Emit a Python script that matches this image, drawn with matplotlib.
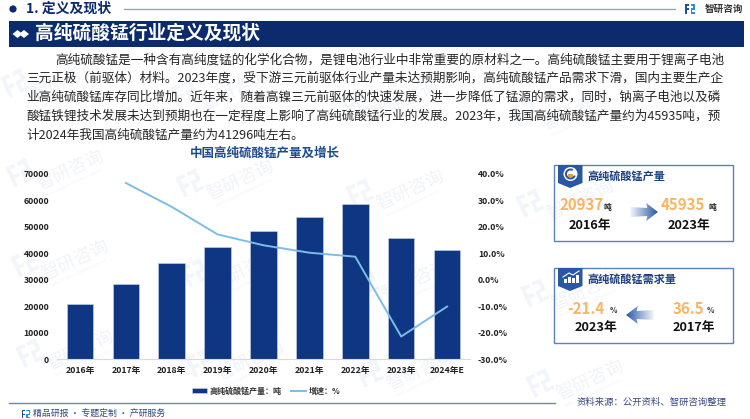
import numpy as np
import matplotlib
matplotlib.use("Agg")
import matplotlib.pyplot as plt
from matplotlib.patches import Polygon, Rectangle, Circle, Wedge
from matplotlib.lines import Line2D
from matplotlib.transforms import Affine2D
from matplotlib.colors import LinearSegmentedColormap

plt.rcParams['font.family'] = ['Noto Sans CJK SC', 'DejaVu Sans']

# ---------- data ----------
years = ['2016年', '2017年', '2018年', '2019年', '2020年', '2021年', '2022年', '2023年', '2024年E']
output = [20937, 28500, 36500, 42500, 48500, 53800, 58500, 45935, 41296]
growth = [np.nan, 36.5, 27.5, 17.1, 13.0, 10.2, 8.7, -21.4, -10.1]
left_ticks = [0, 10000, 20000, 30000, 40000, 50000, 60000, 70000]
right_ticks = [-30, -20, -10, 0, 10, 20, 30, 40]
body_lines = [
    '高纯硫酸锰是一种含有高纯度锰的化学化合物，是锂电池行业中非常重要的原材料之一。高纯硫酸锰主要用于锂离子电池',
    '三元正极（前驱体）材料。2023年度，受下游三元前驱体行业产量未达预期影响，高纯硫酸锰产品需求下滑，国内主要生产企',
    '业高纯硫酸锰库存同比增加。近年来，随着高镍三元前驱体的快速发展，进一步降低了锰源的需求，同时，钠离子电池以及磷',
    '酸锰铁锂技术发展未达到预期也在一定程度上影响了高纯硫酸锰行业的发展。2023年，我国高纯硫酸锰产量约为45935吨，预',
    '计2024年我国高纯硫酸锰产量约为41296吨左右。',
]

W, H = 750, 419
NAVY = '#0c2a6e'
BAR = '#0f3682'
LINE = '#7cbde8'
ORANGE = '#fbb561'
BLUE = '#2a57a5'

fig = plt.figure(figsize=(W / 100, H / 100), dpi=100, facecolor='white')

# ---------- pixel overlay ----------
bg = fig.add_axes([0, 0, 1, 1], zorder=0)
bg.set_xlim(0, W)
bg.set_ylim(H, 0)
bg.axis('off')


def logo(ax, x, y, s, c1, c2, rot=0, z=1, alpha=1):
    tr = Affine2D().scale(s).rotate_deg(rot).translate(x, y) + ax.transData
    for (a, b, w, h, c) in [(-1, -1, 0.85, 0.35, c1), (-1, -1, 0.35, 2, c1), (-1, -0.1, 0.85, 0.35, c1),
                            (0.1, -1, 0.9, 0.35, c2), (0.65, -1, 0.35, 1.1, c2),
                            (0.1, -0.1, 0.9, 0.3, c2), (0.1, -0.1, 0.3, 1.1, c2), (0.1, 0.7, 0.9, 0.3, c2)]:
        ax.add_patch(Rectangle((a, b), w, h, fc=c, ec='none', transform=tr, zorder=z, alpha=alpha))


# watermark tiles (only those lying fully inside the picture)
for j in range(-2, 4):
    for i in range(-1, 5):
        cx = 70 + i * 170 + j * 5
        cy = 173 + i * 10 + j * 90
        if cx < 55 or cx > W - 40 or cy < 25 or cy > H - 25:
            continue
        bg.text(cx, cy - 3, '智研咨询', fontsize=13, color='#f0f3f8', rotation=25,
                ha='center', va='center', zorder=1, rotation_mode='anchor')
        bg.text(cx + 4, cy + 10, 'INTELLIGENCE RESEARCH GROUP', fontsize=2.8, color='#f0f3f8',
                rotation=25, ha='center', va='center', zorder=1, rotation_mode='anchor')
        logo(bg, cx - 50, cy + 0, 11, '#f2f5fa', '#f2f5fa', rot=-25, z=1)

# header
bg.add_patch(Circle((13, 9), 3.6, fc=NAVY, ec='none', zorder=3))
bg.text(26, 9, '1. 定义及现状', fontsize=10, fontweight='bold', color=NAVY, va='center', zorder=3)
bg.add_line(Line2D([124, 675], [9, 9], color='#98a5c6', lw=1, zorder=3))
logo(bg, 690, 9, 5, '#1f4f9c', '#2f8fd0', z=3)
bg.text(705, 8.5, '智研咨询', fontsize=6.9, fontweight='bold', color='#333333', va='center', zorder=3)

# title band
bg.add_patch(Rectangle((9, 21), 735, 26.5, fc=NAVY, ec='none', zorder=3))
for dx in (17.5, 24):
    bg.add_patch(Polygon([(dx - 5, 34), (dx, 30), (dx + 5, 34), (dx, 38)], fc='white', ec='none', zorder=4))
bg.text(35, 33.5, '高纯硫酸锰行业定义及现状', fontsize=13.5, fontweight='bold', color='white', va='center', zorder=4)

# body text
body_x = [55, 26, 26, 26, 26]
body_y = [60, 78, 97, 116, 135]
for tx, yy, ln in zip(body_x, body_y, body_lines):
    bg.text(tx, yy, ln, fontsize=9.1, color='#262626', va='center', zorder=3)

# chart title
bg.text(265, 153, '中国高纯硫酸锰产量及增长', fontsize=9, fontweight='bold', color='#1e4a8e',
        ha='center', va='center', zorder=3)

# footer
bg.add_line(Line2D([9, 555], [403, 403], color='#7484b2', lw=1, zorder=3))
logo(bg, 26, 414, 4, '#1f4f9c', '#2f8fd0', z=3)
bg.text(33, 413, '精品研报 · 专题定制 · 产研服务', fontsize=6.4, color='#2e4a7e', va='center', zorder=3)
bg.text(577, 402.5, '资料来源：公开资料、智研咨询整理', fontsize=6.75, color='#3a4a80', va='center', zorder=3)


# cards
def grad_arrow(x0, x1, y):
    """Blue gradient block arrow from tail x0 to tip x1."""
    L = x1 - x0
    pts = [(x0, y - 5), (x0 + L * 0.62, y - 4), (x0 + L * 0.58, y - 9), (x1, y),
           (x0 + L * 0.58, y + 9), (x0 + L * 0.62, y + 4), (x0, y + 5)]
    cmap = LinearSegmentedColormap.from_list('g', ['#f4f7fc', '#2a57a5'])
    g = np.linspace(0, 1, 64).reshape(1, -1)
    im = bg.imshow(g, extent=[x0, x1, y + 10, y - 10], cmap=cmap, aspect='auto', zorder=3)
    clip = Polygon(pts, transform=bg.transData, fc='none', ec='none')
    bg.add_patch(clip)
    im.set_clip_path(clip)
    bg.set_xlim(0, W)
    bg.set_ylim(H, 0)


def card(y0, y1, title):
    bg.add_patch(Rectangle((554, y0), 179, y1 - y0, fc='none', ec='#5f80b8', lw=1, zorder=3))
    bg.add_patch(Polygon([(558, y0), (582.5, y0), (582.5, y0 + 18), (570, y0 + 23), (558, y0 + 18)],
                         fc=BLUE, ec='none', zorder=4))
    bg.text(587, y0 + 11, title, fontsize=8, fontweight='bold', color='#1c3f80', va='center', zorder=4)


# card 1
card(165, 241, '高纯硫酸锰产量')
bg.add_patch(Circle((570.5, 174), 7, fc='white', ec='none', zorder=5))
bg.add_patch(Wedge((570.5, 174), 5.5, 20, 300, width=2, fc=BLUE, ec='none', zorder=6))
bg.add_patch(Rectangle((568, 174), 5, 3, fc='#e0a04a', ec='none', zorder=6))
bg.text(581.5, 205, '20937', fontsize=10.8, fontweight='bold', color=ORANGE, ha='center', va='center', zorder=4)
bg.text(607.5, 207, '吨', fontsize=5.6, fontweight='bold', color='#222222', ha='center', va='center', zorder=4)
bg.text(589.5, 225, '2016年', fontsize=9.2, fontweight='bold', color='#111111', ha='center', va='center', zorder=4)
bg.text(683, 205, '45935', fontsize=10.8, fontweight='bold', color=ORANGE, ha='center', va='center', zorder=4)
bg.text(712, 207, '吨', fontsize=5.6, fontweight='bold', color='#222222', ha='center', va='center', zorder=4)
bg.text(689, 225, '2023年', fontsize=9.2, fontweight='bold', color='#111111', ha='center', va='center', zorder=4)
grad_arrow(630, 658, 212)

# card 2
card(268, 343, '高纯硫酸锰需求量')
for bx, bh in zip((564, 568, 572, 576), (4, 6, 5, 8)):
    bg.add_patch(Rectangle((bx, 283 - bh), 2.6, bh, fc='white', ec='none', zorder=6))
bg.add_line(Line2D([563, 569, 573, 579], [277, 273, 275, 271], color='white', lw=0.8, zorder=6))
bg.text(586, 309, '-21.4', fontsize=10.8, fontweight='bold', color=ORANGE, ha='center', va='center', zorder=4)
bg.text(613.5, 310, '%', fontsize=5.6, fontweight='bold', color='#333333', ha='center', va='center', zorder=4)
bg.text(595.5, 327, '2023年', fontsize=9.2, fontweight='bold', color='#111111', ha='center', va='center', zorder=4)
bg.text(688.5, 309, '36.5', fontsize=10.8, fontweight='bold', color=ORANGE, ha='center', va='center', zorder=4)
bg.text(710.5, 310, '%', fontsize=5.6, fontweight='bold', color='#333333', ha='center', va='center', zorder=4)
bg.text(693.5, 327, '2017年', fontsize=9.2, fontweight='bold', color='#111111', ha='center', va='center', zorder=4)
grad_arrow(654, 626, 315)

# ---------- chart ----------
L, R, T, B = 57, 470, 173.7, 359.3
ax = fig.add_axes([L / W, 1 - B / H, (R - L) / W, (B - T) / H], zorder=2)
ax.patch.set_visible(False)
x = np.arange(len(years))
bars = ax.bar(x, output, width=0.58, color=BAR, edgecolor='#c9d5ea', linewidth=0.4, label='高纯硫酸锰产量：吨')
ax.set_xlim(-0.5, len(years) - 0.5)
ax.set_ylim(0, 70000)
ax.set_yticks(left_ticks)
ax.set_yticklabels([str(v) for v in left_ticks])
ax.set_xticks(x)
ax.set_xticklabels(years)
ax.tick_params(axis='both', length=0, labelsize=6.3, labelcolor='#222222')
ax.tick_params(axis='y', pad=5.6)
ax.tick_params(axis='x', pad=5)
for lab in ax.get_xticklabels() + ax.get_yticklabels():
    lab.set_fontweight('bold')
for s in ('top', 'left', 'right'):
    ax.spines[s].set_visible(False)
ax.spines['bottom'].set_color('#d9d9d9')
ax.spines['bottom'].set_linewidth(0.8)

ax2 = ax.twinx()
ax2.patch.set_visible(False)
ln, = ax2.plot(x, growth, color=LINE, lw=1.4, label='增速：%')
ax2.set_ylim(-30, 40)
ax2.set_yticks(right_ticks)
ax2.set_yticklabels([f'{v:.1f}%' for v in right_ticks])
ax2.tick_params(axis='y', length=0, labelsize=6.3, labelcolor='#222222', pad=5.6)
for lab in ax2.get_yticklabels():
    lab.set_fontweight('bold')
for s in ('top', 'left', 'right', 'bottom'):
    ax2.spines[s].set_visible(False)

leg = ax2.legend(handles=[bars, ln], loc='center', bbox_to_anchor=(0.506, -0.171), ncol=2, frameon=False,
                 prop={'size': 5.8, 'weight': 'bold'}, handlelength=1.9, handleheight=0.5,
                 handletextpad=0.3, columnspacing=1.2, borderpad=0, labelcolor='#333333')

fig.savefig('out.png', dpi=100)
